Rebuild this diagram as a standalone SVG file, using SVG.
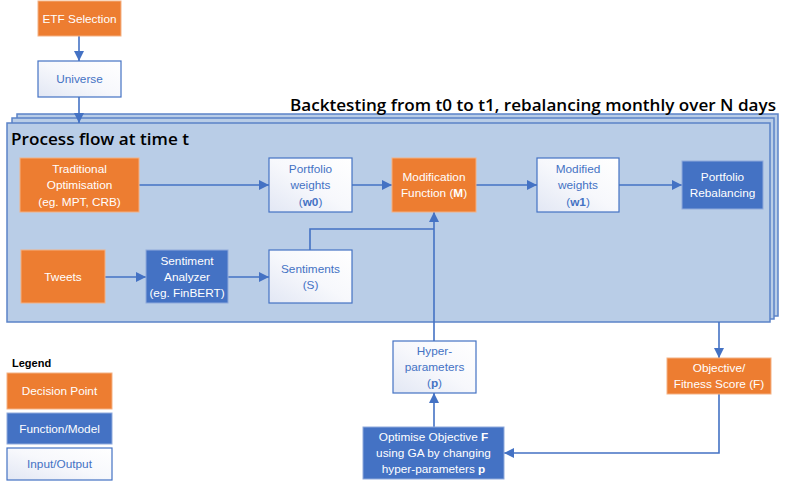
<svg xmlns="http://www.w3.org/2000/svg" width="788" height="484" viewBox="0 0 788 484">
<defs>
<linearGradient id="io" x1="1" y1="0" x2="0" y2="1">
<stop offset="0" stop-color="#ffffff"/>
<stop offset="0.5" stop-color="#f7f8fc"/>
<stop offset="1" stop-color="#e2e7f4"/>
</linearGradient>
<marker id="ah" viewBox="0 0 10 10" refX="10" refY="5" markerWidth="10" markerHeight="10" markerUnits="userSpaceOnUse" orient="auto">
<path d="M0,0 L10,5 L0,10 Z" fill="#4472c4"/>
</marker>
</defs>
<style>
.dec{fill:#ed7d31;stroke:#f4b183;stroke-width:1}
.fun{fill:#4472c4;stroke:#8faadc;stroke-width:1}
.io{fill:url(#io);stroke:#4472c4;stroke-width:1.2}
.stk{fill:#b9cde7;stroke:#5b83c8;stroke-width:1.5}
text{font-family:"Liberation Sans",Arial,sans-serif;font-size:11.8px;text-anchor:middle}
.w{fill:#ffffff}
.b{fill:#4472c4}
.k{fill:#000000;text-anchor:start;font-weight:bold}
.t{font-family:"Open Sans","Liberation Sans",sans-serif;font-weight:600;font-size:17px}
.bd{font-weight:bold}
.c{fill:none;stroke:#4472c4;stroke-width:1.6}
</style>
<g id="backtest-stack">
<rect class="stk" x="17" y="114" width="761" height="202"/>
<rect class="stk" x="12" y="118" width="762" height="201"/>
<rect class="stk" x="7" y="123" width="763" height="199"/>
<text class="k t" x="290" y="111" textLength="486" lengthAdjust="spacingAndGlyphs">Backtesting from t0 to t1, rebalancing monthly over N days</text>
<text class="k t" x="11" y="145" textLength="178" lengthAdjust="spacingAndGlyphs">Process flow at time t</text>
</g>
<g id="connectors">
<line class="c" x1="79" y1="36" x2="79" y2="61" marker-end="url(#ah)"/>
<line class="c" x1="79" y1="97" x2="79" y2="123" marker-end="url(#ah)"/>
<line class="c" x1="139" y1="185" x2="269" y2="185" marker-end="url(#ah)"/>
<line class="c" x1="352" y1="185" x2="392" y2="185" marker-end="url(#ah)"/>
<line class="c" x1="476" y1="185" x2="537" y2="185" marker-end="url(#ah)"/>
<line class="c" x1="619" y1="185" x2="682" y2="185" marker-end="url(#ah)"/>
<line class="c" x1="105" y1="277" x2="146" y2="277" marker-end="url(#ah)"/>
<line class="c" x1="228" y1="277" x2="269" y2="277" marker-end="url(#ah)"/>
<polyline class="c" points="310,250 310,229 434,229"/>
<line class="c" x1="434" y1="341" x2="434" y2="212" marker-end="url(#ah)"/>
<line class="c" x1="434" y1="427" x2="434" y2="393" marker-end="url(#ah)"/>
<line class="c" x1="719" y1="322" x2="719" y2="358" marker-end="url(#ah)"/>
<polyline class="c" points="719,394 719,453 504,453" marker-end="url(#ah)"/>
</g>
<g id="etf-selection">
<rect class="dec" x="38" y="1" width="83" height="35"/>
<text class="w" x="79.5" y="23">ETF Selection</text>
</g>
<g id="universe">
<rect class="io" x="38" y="61" width="83" height="36"/>
<text class="b" x="79.5" y="83">Universe</text>
</g>
<g id="traditional-optimisation">
<rect class="dec" x="20" y="158" width="119" height="54"/>
<text class="w" x="79.5" y="173">Traditional</text>
<text class="w" x="79.5" y="189">Optimisation</text>
<text class="w" x="79.5" y="206">(eg. MPT, CRB)</text>
</g>
<g id="portfolio-weights">
<rect class="io" x="269" y="158" width="83" height="54"/>
<text class="b" x="310.5" y="173">Portfolio</text>
<text class="b" x="310.5" y="189">weights</text>
<text class="b" x="310.5" y="206">(<tspan class="bd">w0</tspan>)</text>
</g>
<g id="modification-function">
<rect class="dec" x="392" y="158" width="84" height="54"/>
<text class="w" x="434" y="181">Modification</text>
<text class="w" x="434" y="197">Function (<tspan class="bd">M</tspan>)</text>
</g>
<g id="modified-weights">
<rect class="io" x="537" y="158" width="82" height="54"/>
<text class="b" x="578" y="173">Modified</text>
<text class="b" x="578" y="189">weights</text>
<text class="b" x="578" y="206">(<tspan class="bd">w1</tspan>)</text>
</g>
<g id="portfolio-rebalancing">
<rect class="fun" x="682" y="161" width="81" height="48"/>
<text class="w" x="722.5" y="181">Portfolio</text>
<text class="w" x="722.5" y="197">Rebalancing</text>
</g>
<g id="tweets">
<rect class="dec" x="21" y="250" width="84" height="53"/>
<text class="w" x="63" y="281">Tweets</text>
</g>
<g id="sentiment-analyzer">
<rect class="fun" x="146" y="250" width="82" height="53"/>
<text class="w" x="187" y="265">Sentiment</text>
<text class="w" x="187" y="281">Analyzer</text>
<text class="w" x="187" y="297">(eg. FinBERT)</text>
</g>
<g id="sentiments">
<rect class="io" x="269" y="250" width="83" height="53"/>
<text class="b" x="310.5" y="273">Sentiments</text>
<text class="b" x="310.5" y="289">(S)</text>
</g>
<g id="hyper-parameters">
<rect class="io" x="393" y="341" width="83" height="52"/>
<text class="b" x="434.5" y="355">Hyper-</text>
<text class="b" x="434.5" y="371">parameters</text>
<text class="b" x="434.5" y="387">(<tspan class="bd">p</tspan>)</text>
</g>
<g id="optimise-objective">
<rect class="fun" x="363" y="427" width="141" height="52"/>
<text class="w" x="433.5" y="441">Optimise Objective <tspan class="bd">F</tspan></text>
<text class="w" x="433.5" y="457">using GA by changing</text>
<text class="w" x="433.5" y="473">hyper-parameters <tspan class="bd">p</tspan></text>
</g>
<g id="objective-fitness-score">
<rect class="dec" x="667" y="358" width="104" height="36"/>
<text class="w" x="719" y="372">Objective/</text>
<text class="w" x="719" y="388">Fitness Score (F)</text>
</g>
<g id="legend">
<text class="k" x="12" y="367" style="font-size:11px">Legend</text>
<rect class="dec" x="7" y="373" width="105" height="36"/>
<text class="w" x="59.5" y="395">Decision Point</text>
<rect class="fun" x="7" y="413" width="105" height="31"/>
<text class="w" x="59.5" y="433">Function/Model</text>
<rect class="io" x="7" y="448" width="105" height="32"/>
<text class="b" x="59.5" y="468">Input/Output</text>
</g>
</svg>
